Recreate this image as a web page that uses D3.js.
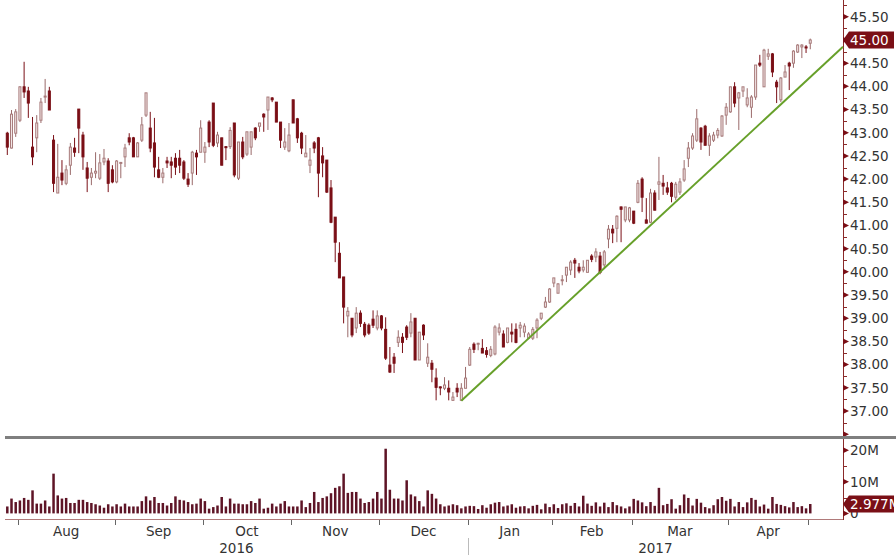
<!DOCTYPE html>
<html><head><meta charset="utf-8">
<script src="https://cdn.jsdelivr.net/npm/d3@7/dist/d3.min.js"></script>
<style>html,body{margin:0;padding:0;background:#fff;overflow:hidden}svg{display:block;font-family:"DejaVu Sans",Verdana,sans-serif}</style>
</head><body><svg id="c" width="896" height="555"></svg>
<script>
// ---- data ----
const firstDay = "2016-07-27", lastDay = "2017-05-01";
const holidays = ["2016-09-05","2016-11-24","2016-12-26","2017-01-02","2017-01-16","2017-02-20","2017-04-14"];
// daily candles: [open, high, low, close]
const candles = [
[42.99,43.02,42.52,42.69],[42.67,43.49,42.66,43.40],[42.99,43.51,42.91,43.45],[43.27,44.00,43.23,43.99],[43.99,44.53,43.75,43.88],
[43.90,43.99,43.32,43.64],[42.69,43.34,42.30,42.48],[42.89,43.38,42.58,43.21],[43.27,43.75,43.21,43.66],[43.77,44.16,43.64,43.79],
[43.90,43.99,43.49,43.49],[42.84,42.95,41.72,41.91],[41.70,42.76,41.70,42.04],[42.13,42.41,41.87,41.98],[41.91,42.30,41.87,42.20],
[42.30,42.78,42.09,42.69],[42.67,42.89,42.48,42.58],[43.51,43.51,42.56,43.10],[42.95,43.02,42.20,42.48],[42.24,42.37,41.72,42.02],
[42.04,42.24,41.87,42.13],[42.13,42.58,42.02,42.17],[42.02,42.54,41.98,42.35],[42.37,42.65,42.30,42.45],[42.39,42.45,41.72,41.91],
[42.20,42.30,41.91,41.94],[41.94,42.41,41.91,42.39],[42.35,42.37,42.02,42.36],[42.48,42.76,42.26,42.67],[42.89,42.99,42.73,42.80],
[42.89,42.91,42.48,42.48],[42.48,42.80,42.48,42.78],[42.84,43.34,42.80,43.17],[43.38,43.86,43.34,43.86],[43.10,43.45,42.58,42.67],
[42.78,43.32,42.04,42.26],[42.20,42.48,42.02,42.04],[42.04,42.24,41.91,42.13],[42.39,42.48,42.24,42.35],[42.37,42.48,42.02,42.30],
[42.45,42.56,42.09,42.26],[42.45,42.63,42.13,42.30],[42.37,42.41,41.98,42.02],[42.00,42.13,41.83,41.89],[42.13,42.61,41.87,42.58],
[42.56,42.63,42.09,42.48],[42.58,43.27,42.58,43.10],[42.58,42.80,42.35,42.69],[43.23,43.27,42.69,42.80],[43.64,43.64,42.69,42.73],
[42.78,43.02,42.69,42.95],[42.89,42.89,42.30,42.30],[42.70,42.71,42.41,42.69],[42.70,43.12,42.65,43.05],[43.21,43.21,42.04,42.09],
[42.02,42.80,41.98,42.80],[42.80,42.91,42.43,42.48],[42.54,43.02,42.50,43.02],[42.69,43.02,42.52,43.02],[43.10,43.12,42.84,42.89],
[43.14,43.21,43.02,43.21],[43.40,43.42,43.02,43.34],[43.49,43.77,43.06,43.77],[43.75,43.77,43.66,43.71],[43.66,43.66,43.23,43.23],
[43.23,43.23,42.67,42.84],[42.69,43.10,42.63,42.80],[42.61,43.21,42.58,42.95],[43.71,43.71,43.21,43.21],[43.30,43.32,42.78,42.89],
[42.99,43.02,42.54,42.67],[42.48,42.95,42.48,42.56],[42.30,42.67,42.13,42.41],[42.78,42.82,42.56,42.67],[42.89,42.91,41.61,42.13],
[42.50,42.69,42.04,42.35],[42.41,42.41,41.70,41.72],[41.81,41.98,41.05,41.07],[41.18,41.18,40.21,40.64],[40.40,40.64,39.87,39.87],
[39.89,39.89,38.89,39.24],[39.05,39.24,38.59,39.15],[39.00,39.00,38.59,38.64],[38.79,39.24,38.68,39.11],[39.11,39.17,38.81,38.89],
[38.87,38.92,38.59,38.64],[38.85,38.89,38.64,38.68],[38.98,39.17,38.79,38.85],[38.79,39.17,38.74,39.05],[39.05,39.07,38.74,38.79],
[38.76,39.02,38.10,38.14],[37.99,38.38,37.82,37.84],[38.16,38.25,37.82,38.03],[38.48,38.74,38.38,38.59],[38.59,38.68,38.25,38.48],
[38.81,38.85,38.53,38.59],[38.68,39.11,38.59,38.92],[39.00,39.00,38.10,38.10],[38.10,38.70,38.10,38.70],[38.85,38.87,38.53,38.64],
[38.03,38.46,37.95,38.16],[38.03,38.10,37.62,37.90],[37.71,37.92,37.23,37.51],[37.52,37.53,37.34,37.51],[37.49,37.73,37.45,37.56],
[37.49,37.66,37.23,37.41],[37.23,37.41,37.22,37.30],[37.49,37.60,37.30,37.41],[37.23,37.60,37.22,37.49],[37.49,37.95,37.49,37.71],
[37.99,38.38,37.97,38.33],[38.44,38.48,38.25,38.33],[38.46,38.47,38.31,38.46],[38.35,38.55,38.25,38.25],[38.30,38.38,38.15,38.22],
[38.20,38.40,38.16,38.33],[38.23,38.85,38.20,38.81],[38.70,38.89,38.63,38.79],[38.66,38.74,38.38,38.38],[38.48,38.79,38.46,38.79],
[38.70,38.89,38.48,38.66],[38.76,38.89,38.46,38.48],[38.79,38.92,38.59,38.85],[38.70,38.89,38.59,38.83],[38.57,38.70,38.55,38.66],
[38.57,38.81,38.53,38.76],[38.79,39.00,38.57,38.96],[39.00,39.11,38.96,39.11],[39.24,39.46,39.22,39.35],[39.35,39.65,39.33,39.63],
[39.76,39.87,39.67,39.87],[39.54,39.76,39.54,39.74],[39.82,39.93,39.71,39.83],[39.93,40.10,39.78,40.10],[40.04,40.25,39.93,40.21],
[40.25,40.30,39.87,40.19],[40.10,40.19,39.97,40.02],[40.04,40.25,39.99,40.10],[39.99,40.25,39.99,40.25],[40.34,40.38,40.21,40.27],
[40.32,40.51,40.21,40.43],[40.34,40.43,39.95,39.99],[40.15,40.47,40.08,40.43],[40.71,41.01,40.51,40.92],[40.92,41.01,40.62,40.84],
[40.94,41.22,40.64,41.20],[41.40,41.41,40.64,41.35],[41.12,41.40,41.07,41.40],[41.12,41.40,41.07,41.38],[41.31,41.31,41.03,41.05],
[41.50,41.98,41.48,41.91],[42.00,42.04,41.29,41.61],[41.12,41.59,41.05,41.05],[41.07,41.79,41.05,41.70],[41.70,41.76,41.33,41.33],
[41.89,42.48,41.55,41.94],[41.91,42.09,41.66,41.85],[41.81,41.94,41.66,41.72],[41.91,41.94,41.50,41.63],[41.61,41.94,41.55,41.89],
[41.72,42.02,41.66,41.94],[41.98,42.41,41.94,42.22],[42.45,42.80,42.26,42.67],[42.67,42.99,42.63,42.93],[42.84,43.51,42.80,43.30],
[43.10,43.12,42.63,42.80],[43.14,43.17,42.73,42.73],[42.73,42.99,42.50,42.93],[42.84,43.02,42.80,42.95],[42.95,43.10,42.88,43.05],
[42.93,43.38,42.91,43.36],[43.38,43.64,43.17,43.55],[43.45,43.99,43.43,43.99],[43.99,44.09,43.55,43.64],[43.75,43.88,43.06,43.86],
[43.90,43.99,43.77,43.99],[43.60,43.96,43.55,43.75],[43.55,43.81,43.32,43.77],[43.77,44.46,43.71,44.46],[44.50,44.68,44.42,44.46],
[43.99,44.81,43.99,44.78],[44.65,44.81,44.57,44.70],[44.70,44.72,44.20,44.31],[44.09,44.14,43.64,43.99],[43.71,44.20,43.66,44.18],
[44.20,44.46,44.20,44.31],[44.50,44.53,43.92,44.44],[44.50,44.78,44.40,44.76],[44.74,44.91,44.72,44.89],[44.85,44.91,44.61,44.89],
[44.85,44.89,44.72,44.83],[44.93,45.03,44.80,45.00]
];
// daily volume, millions
const volume = [
2.2,4.7,3.6,4.1,4.9,4.3,7.3,3.1,3.1,4.1,2.2,12.6,5.7,4.7,4.9,3.3,3.3,4.3,4.3,3.6,3.3,
2.9,2.5,1.8,2.9,2.2,2.9,2.2,3.1,2.2,2.2,2.2,3.9,5.4,4.1,5.2,3.3,3.3,2.5,3.3,5.4,
4.3,4.1,3.6,2.9,3.1,4.7,3.9,1.5,2.0,2.5,5.2,2.2,4.7,3.1,3.1,2.9,2.9,3.9,3.3,4.7,
1.5,1.8,3.1,2.2,3.1,3.9,2.2,2.2,2.2,4.1,2.0,3.3,6.8,3.6,4.9,5.4,6.4,8.1,8.6,12.6,
6.5,6.8,6.8,4.7,3.3,3.6,4.7,6.8,4.7,20.5,7.5,4.7,4.7,4.1,10.5,6.0,5.4,3.9,2.2,7.3,6.2,4.7,2.9,
2.2,2.5,2.9,2.6,1.6,2.2,2.4,2.3,1.4,2.6,1.8,2.9,3.4,3.6,2.2,2.5,2.9,1.8,2.2,2.3,
1.6,2.4,2.7,1.3,3.1,2.0,2.9,1.7,2.9,3.2,2.4,3.3,2.2,5.6,3.1,2.4,3.5,2.2,3.4,2.0,
3.6,2.6,2.2,1.6,2.2,4.6,4.1,3.5,2.3,3.6,2.4,8.1,2.6,3.0,4.5,1.5,2.6,6.0,4.9,2.5,
4.6,3.4,2.0,1.6,2.6,4.5,5.2,4.0,4.6,2.2,3.6,2.0,3.5,4.9,4.3,2.2,2.8,1.5,5.2,3.0,
2.7,2.3,1.9,3.6,2.0,2.3,1.6,2.977
];
const priceTicks = [37.00,37.50,38.00,38.50,39.00,39.50,40.00,40.50,41.00,41.50,42.00,42.50,43.00,43.50,44.00,44.50,45.00,45.50];
const volumeTicks = [0,10,20];
const volumeTickLabels = ["0","10M","20M"];
const monthNames = ["Jan","Feb","Mar","Apr","May","Jun","Jul","Aug","Sep","Oct","Nov","Dec"];
const lastPriceLabel = "45.00";
const lastVolumeLabel = "2.977M";
const trendline = [{date:"2016-12-29", price:37.22},{date:"2017-05-01", price:44.20}];

// ---- build ----
const parse = d3.timeParse("%Y-%m-%d"), fmt = d3.timeFormat("%Y-%m-%d");
const hol = new Set(holidays);
const dates = [];
for (let d = parse(firstDay); d <= parse(lastDay); d = d3.timeDay.offset(d, 1)) {
  const wd = d.getDay();
  if (wd === 0 || wd === 6 || hol.has(fmt(d))) continue;
  dates.push(d);
}
const n = Math.min(dates.length, candles.length, volume.length);
const svg = d3.select("#c");
const AX = 843;            // right axis x
const x = d3.scaleBand().domain(d3.range(n)).range([5.2, 5.2 + n * 4.204]).paddingInner(0.28).paddingOuter(0.14);
const step = x.step(), bw = x.bandwidth();
const cx = i => x(i) + bw / 2;
const y = d3.scaleLinear().domain([37, 45.5]).range([411, 16.8]);
const yv = d3.scaleLinear().domain([0, 20]).range([513.4, 450.3]);

const RED = "#7a0f16", AXC = "#8a2a2a";

// price axis
svg.append("line").attr("x1", AX + .5).attr("x2", AX + .5).attr("y1", 0).attr("y2", 436).attr("stroke", AXC);
const minor = d3.range(36.5, 45.8, 0.25).filter(v => y(v) > 2 && y(v) < 434 && Math.abs(v * 2 - Math.round(v * 2)) > 0.01);
svg.selectAll(".mn").data(minor).enter().append("line")
  .attr("x1", AX).attr("x2", AX + 4).attr("y1", d => Math.round(y(d)) + .5).attr("y2", d => Math.round(y(d)) + .5).attr("stroke", AXC);
const majors = priceTicks.concat([36.5]);
svg.selectAll(".mj").data(majors).enter().append("path")
  .attr("d", d => { const yy = y(d); return `M${AX},${yy - 3}L${AX + 6},${yy}L${AX},${yy + 3}Z`; }).attr("fill", RED);
svg.selectAll(".pl").data(priceTicks.filter(v => Math.abs(v - 45) > 0.01)).enter().append("text")
  .attr("x", 850).attr("y", d => y(d)).attr("dy", "0.36em").attr("font-size", 13.5).attr("fill", "#333")
  .text(d => d3.format(".2f")(d));

// separator
svg.append("line").attr("x1", 5).attr("x2", 896).attr("y1", 437.5).attr("y2", 437.5).attr("stroke", "#7f7f7f").attr("stroke-width", 3);

// volume axis
svg.append("line").attr("x1", AX + .5).attr("x2", AX + .5).attr("y1", 439).attr("y2", 520).attr("stroke", AXC);
svg.selectAll(".vm").data([5, 15]).enter().append("line")
  .attr("x1", AX).attr("x2", AX + 4).attr("y1", d => Math.round(yv(d)) + .5).attr("y2", d => Math.round(yv(d)) + .5).attr("stroke", AXC);
svg.selectAll(".vt").data(volumeTicks).enter().append("path")
  .attr("d", d => { const yy = yv(d); return `M${AX},${yy - 3}L${AX + 6},${yy}L${AX},${yy + 3}Z`; }).attr("fill", RED);
svg.selectAll(".vl").data(volumeTicks).enter().append("text")
  .attr("x", 850).attr("y", d => yv(d)).attr("dy", "0.36em").attr("font-size", 13.5).attr("fill", "#333")
  .text((d, i) => volumeTickLabels[i]);

// bottom axis
svg.append("line").attr("x1", 5).attr("x2", AX).attr("y1", 519.5).attr("y2", 519.5).attr("stroke", "#b07a7a");
const bounds = [];  // month starts
for (let i = 1; i < n; i++) if (dates[i].getMonth() !== dates[i - 1].getMonth()) bounds.push(i);
const bx = i => cx(i) - step / 2;
svg.selectAll(".bt").data(bounds).enter().append("line")
  .attr("x1", d => Math.round(bx(d)) + .5).attr("x2", d => Math.round(bx(d)) + .5).attr("y1", 520).attr("y2", 525).attr("stroke", "#666");
const segs = [0].concat(bounds);
segs.forEach((s, k) => {
  const e = k + 1 < segs.length ? segs[k + 1] : n;
  if (e - s < 8) return;
  const x0 = s === 0 ? x.range()[0] : bx(s), x1 = e === n ? AX : bx(e);
  svg.append("text").attr("x", (x0 + x1) / 2).attr("y", 536).attr("text-anchor", "middle")
    .attr("font-size", 13.5).attr("fill", "#333").text(monthNames[dates[s].getMonth()]);
});
// years
const yb = bounds.filter(i => dates[i].getFullYear() !== dates[i - 1].getFullYear());
const ysegs = [0].concat(yb);
ysegs.forEach((s, k) => {
  const e = k + 1 < ysegs.length ? ysegs[k + 1] : n;
  const x0 = s === 0 ? x.range()[0] : bx(s), x1 = e === n ? AX : bx(e);
  svg.append("text").attr("x", (x0 + x1) / 2).attr("y", 553).attr("text-anchor", "middle")
    .attr("font-size", 13.5).attr("fill", "#333").text(dates[s].getFullYear());
});
yb.forEach(i => svg.append("line").attr("x1", Math.round(bx(i)) + .5).attr("x2", Math.round(bx(i)) + .5)
  .attr("y1", 538).attr("y2", 555).attr("stroke", "#bbb"));

// volume bars
svg.selectAll(".vb").data(d3.range(n)).enter().append("rect")
  .attr("x", i => cx(i) - 1.25).attr("width", 2.5)
  .attr("y", i => yv(volume[i])).attr("height", i => yv(0) - yv(volume[i])).attr("fill", "#5e1426");

// candles
const g = svg.append("g");
d3.range(n).forEach(i => {
  const [o, h, l, c] = candles[i];
  const up = c >= o;
  const xc = cx(i);
  g.append("line").attr("x1", xc).attr("x2", xc).attr("y1", y(h)).attr("y2", y(l))
    .attr("stroke", up ? "#9a6a6a" : RED).attr("stroke-width", 1);
  const top = y(Math.max(o, c)), bot = y(Math.min(o, c));
  g.append("rect").attr("x", xc - bw / 2 + .5).attr("width", bw - 1)
    .attr("y", top).attr("height", Math.max(1, bot - top))
    .attr("fill", up ? "#f2e6e6" : RED).attr("stroke", up ? "#a87b7b" : RED).attr("stroke-width", 1);
});

// trend line
const ti = trendline.map(t => dates.findIndex(d => fmt(d) === t.date));
const tp = d3.scaleLinear().domain(ti).range(trendline.map(t => t.price));
const iEnd = (AX - cx(0)) / step;
svg.append("line").attr("x1", cx(ti[0])).attr("y1", y(trendline[0].price))
  .attr("x2", AX).attr("y2", y(tp(iEnd))).attr("stroke", "#67a02a").attr("stroke-width", 2);

// last value tags
function tag(yy, label, h) {
  svg.append("path").attr("d", `M${AX},${yy}L${AX + 6},${yy - h / 2}L894,${yy - h / 2}L894,${yy + h / 2}L${AX + 6},${yy + h / 2}Z`).attr("fill", RED);
  svg.append("text").attr("x", 850).attr("y", yy).attr("dy", "0.36em").attr("font-size", 13.5).attr("fill", "#fff").text(label);
}
tag(y(+lastPriceLabel), lastPriceLabel, 17);
tag(yv(volume[n - 1]), lastVolumeLabel, 17);
</script></body></html>
